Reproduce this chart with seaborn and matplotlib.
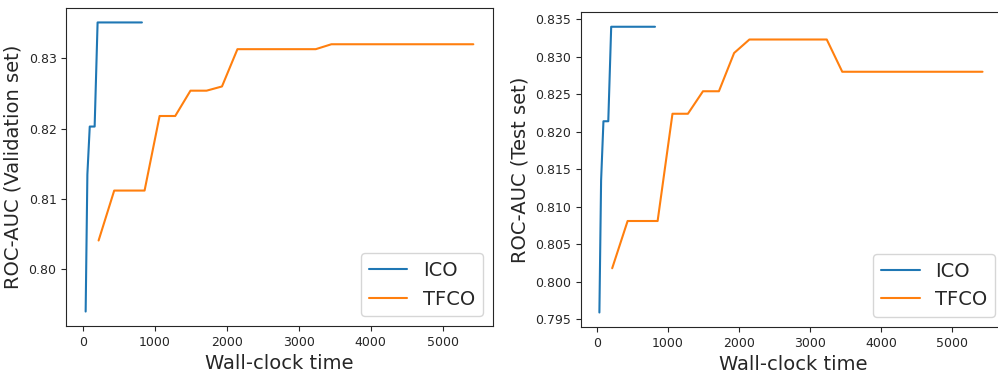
import numpy as np
import pandas as pd
import matplotlib
matplotlib.use("Agg")
import matplotlib.pyplot as plt
import seaborn as sns

# ICO series
ico_time = [38, 62, 95, 163, 204, 820]
ico_val = [0.7940, 0.8135, 0.8203, 0.8203, 0.8351, 0.8351]
ico_test = [0.7959, 0.8135, 0.8214, 0.8214, 0.8340, 0.8340]

# TFCO series
tfco_time = [218, 435, 857, 1066, 1283, 1495, 1719, 1933, 2148, 3236, 3454, 5427]
tfco_val = [0.8041, 0.8112, 0.8112, 0.8218, 0.8218, 0.8254, 0.8254, 0.8260,
            0.8313, 0.8313, 0.8320, 0.8320]
tfco_test = [0.8018, 0.8081, 0.8081, 0.8224, 0.8224, 0.8254, 0.8254, 0.8305,
             0.8323, 0.8323, 0.8280, 0.8280]

methods = ["ICO", "TFCO"]
xlabel = "Wall-clock time"
ylabels = ["ROC-AUC (Validation set)", "ROC-AUC (Test set)"]

def make_df(ico_y, tfco_y):
    return pd.DataFrame({
        "time": ico_time + tfco_time,
        "auc": ico_y + tfco_y,
        "method": [methods[0]] * len(ico_time) + [methods[1]] * len(tfco_time),
    })

sns.set_style("ticks")
plt.rcParams['font.family'] = ['DejaVu Sans']

fig = plt.figure(figsize=(9.98, 3.70), dpi=100)
ax1 = fig.add_axes([0.0664, 0.1189, 0.4273, 0.8595])
ax2 = fig.add_axes([0.5820, 0.1168, 0.4250, 0.8495])

palette = {"ICO": "#1f77b4", "TFCO": "#ff7f0e"}
for ax, (iy, ty), yl in zip([ax1, ax2], [(ico_val, tfco_val), (ico_test, tfco_test)], ylabels):
    df = make_df(iy, ty)
    sns.lineplot(data=df, x="time", y="auc", hue="method", palette=palette,
                 estimator=None, sort=False, linewidth=1.5, ax=ax)
    ax.set_xlabel(xlabel, fontsize=14)
    ax.set_ylabel(yl, fontsize=14)
    ax.tick_params(labelsize=9)
    ax.set_xticks([0, 1000, 2000, 3000, 4000, 5000])
    leg = ax.legend(loc="lower right", fontsize=14)
    leg.set_title(None)

ax1.set_yticks([0.80, 0.81, 0.82, 0.83])
ax1.set_yticklabels(["0.80", "0.81", "0.82", "0.83"])
ax2.set_yticks([0.795, 0.800, 0.805, 0.810, 0.815, 0.820, 0.825, 0.830, 0.835])
# keep the same x scale as the reference despite the wider box
ax2.set_xlim(-223, 5698 + (0.4250 - 0.4218) * 998 / 0.0711)

fig.savefig("out.png", dpi=100)
